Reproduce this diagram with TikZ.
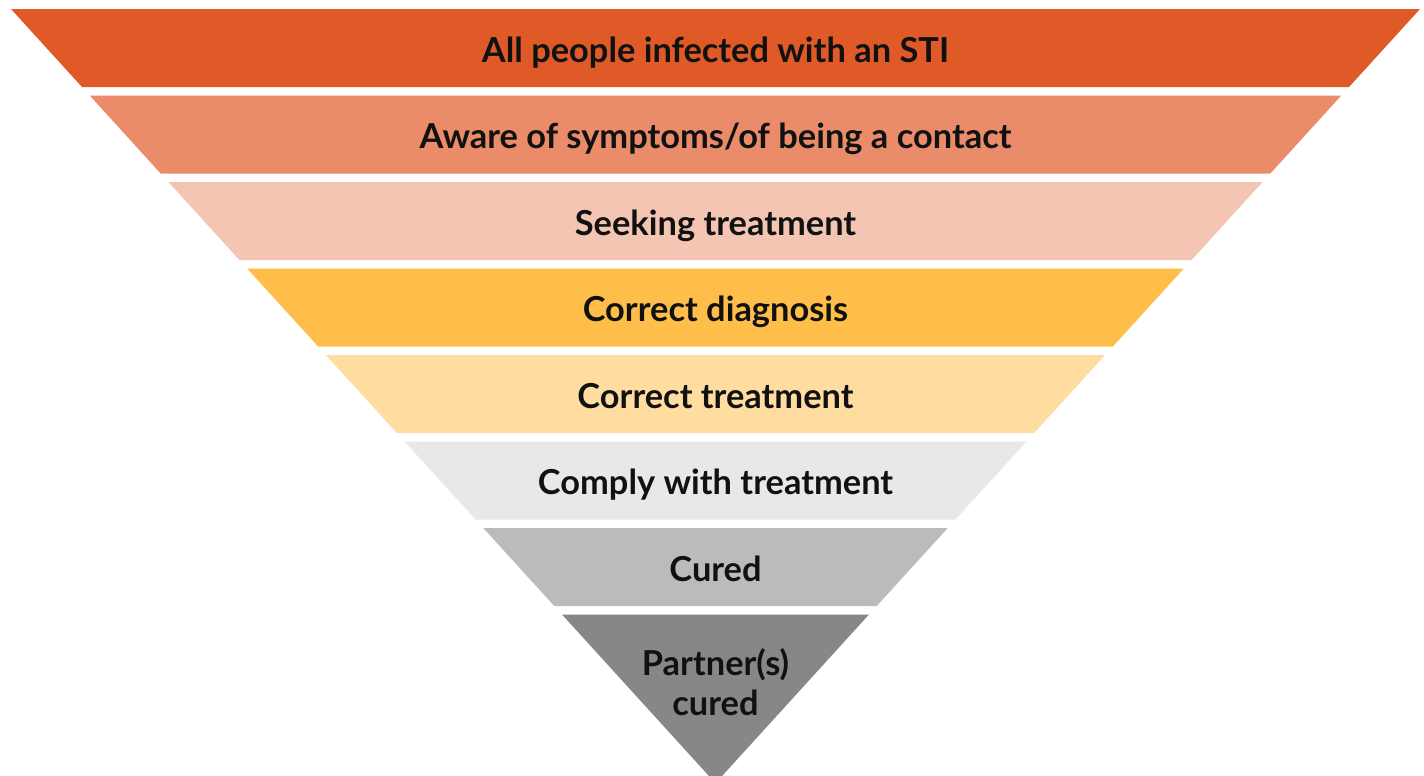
\documentclass[tikz,border=0pt]{standalone}
\usepackage{fontspec}
\setmainfont{Lato}
\definecolor{c1}{HTML}{E05A28}
\definecolor{c2}{HTML}{EA8B69}
\definecolor{c3}{HTML}{F4C5B3}
\definecolor{c4}{HTML}{FFBE4A}
\definecolor{c5}{HTML}{FFDDA0}
\definecolor{c6}{HTML}{E8E8E8}
\definecolor{c7}{HTML}{BBBBBB}
\definecolor{c8}{HTML}{878787}
\definecolor{txt}{HTML}{111111}
\tikzset{
  lbl/.style={font=\fontsize{17.2pt}{20pt}\selectfont\bfseries, text=txt, align=center, inner sep=0pt, anchor=base},
}
\begin{document}
\begin{tikzpicture}[x=0.5pt,y=-0.5pt]
\useasboundingbox (0,0) rectangle (1424,776);
\fill[white] (0,0) rectangle (1424,776);
\clip (0,0) rectangle (1424,776);
\foreach \i/\col in {0/c1,1/c2,2/c3,3/c4,4/c5,5/c6,6/c7} {
  \pgfmathsetmacro\yt{9+86.5*\i}
  \pgfmathsetmacro\yb{\yt+78}
  \pgfmathsetmacro\wt{704.5-0.91*(\yt-9)}
  \pgfmathsetmacro\wb{704.5-0.91*(\yb-9)}
  \fill[\col] (715.5-\wt,\yt) -- (715.5+\wt,\yt) -- (715.5+\wb,\yb) -- (715.5-\wb,\yb) -- cycle;
}
\pgfmathsetmacro\yt{9+86.5*7}
\pgfmathsetmacro\wt{704.5-0.91*(\yt-9)}
\fill[c8] (715.5-\wt,\yt) -- (715.5+\wt,\yt) -- (715.5,783.2) -- cycle;
\node[lbl] (t1) at (715.5,62) {All people infected with an STI};
\node[lbl] (t2) at (715.5,148.5) {Aware of symptoms/of being a contact};
\node[lbl] (t3) at (715.5,235) {Seeking treatment};
\node[lbl] (t4) at (715.5,321.5) {Correct diagnosis};
\node[lbl] (t5) at (715.5,408) {Correct treatment};
\node[lbl] (t6) at (715.5,494.5) {Comply with treatment};
\node[lbl] (t7) at (715.5,581) {Cured};
\node[lbl] (t8) at (715.5,715) {Partner(s)\\cured};
\end{tikzpicture}
\end{document}
